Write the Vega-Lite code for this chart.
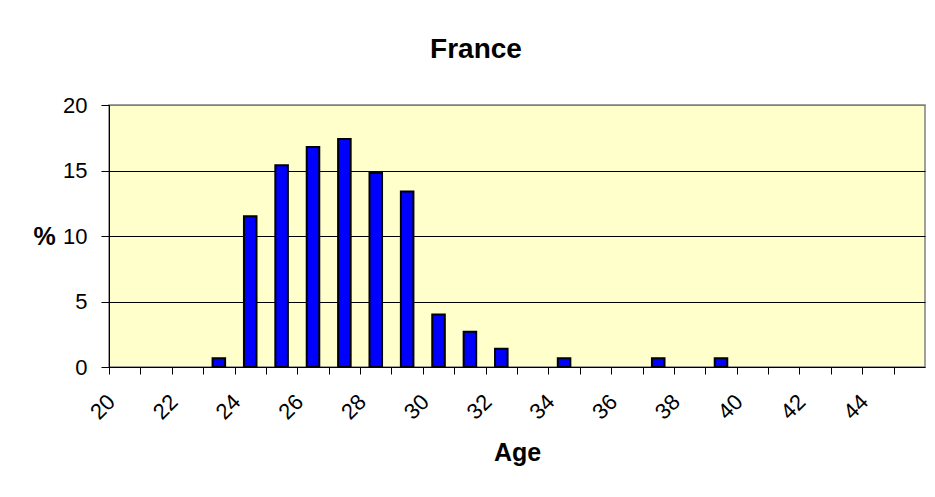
{
  "$schema": "https://vega.github.io/schema/vega-lite/v6.json",
  "width": 816,
  "height": 262,
  "autosize": {"type": "none"},
  "padding": {"left": 109, "top": 105, "right": 10, "bottom": 130},
  "background": "white",
  "title": {
    "text": "France",
    "font": "Liberation Sans",
    "fontSize": 28,
    "fontWeight": "bold",
    "color": "black",
    "anchor": "middle",
    "dx": -41,
    "baseline": "alphabetic",
    "offset": 8
  },
  "data": {
    "values": [
      {"age": 20, "pct": 0},
      {"age": 21, "pct": 0},
      {"age": 22, "pct": 0},
      {"age": 23, "pct": 0.67},
      {"age": 24, "pct": 11.5},
      {"age": 25, "pct": 15.4},
      {"age": 26, "pct": 16.8},
      {"age": 27, "pct": 17.4},
      {"age": 28, "pct": 14.8},
      {"age": 29, "pct": 13.4},
      {"age": 30, "pct": 4.0},
      {"age": 31, "pct": 2.7},
      {"age": 32, "pct": 1.4},
      {"age": 33, "pct": 0},
      {"age": 34, "pct": 0.67},
      {"age": 35, "pct": 0},
      {"age": 36, "pct": 0},
      {"age": 37, "pct": 0.67},
      {"age": 38, "pct": 0},
      {"age": 39, "pct": 0.67},
      {"age": 40, "pct": 0},
      {"age": 41, "pct": 0},
      {"age": 42, "pct": 0},
      {"age": 43, "pct": 0},
      {"age": 44, "pct": 0},
      {"age": 45, "pct": 0}
    ]
  },
  "transform": [{"filter": "datum.pct > 0"}],
  "mark": {"type": "bar", "color": "#0000FF", "stroke": "#000000", "strokeWidth": 2},
  "encoding": {
    "x": {
      "field": "age",
      "type": "ordinal",
      "scale": {
        "domain": [20, 21, 22, 23, 24, 25, 26, 27, 28, 29, 30, 31, 32, 33, 34, 35, 36, 37, 38, 39, 40, 41, 42, 43, 44, 45],
        "paddingInner": 0.6,
        "paddingOuter": 0.3
      },
      "axis": {
        "title": "Age",
        "titleFont": "Liberation Sans",
        "titleFontSize": 25,
        "titleFontWeight": "bold",
        "titleColor": "black",
        "titleY": 93,
        "titleBaseline": "alphabetic",
        "labelAngle": -45,
        "labelAlign": "right",
        "labelBaseline": "middle",
        "labelFont": "Liberation Sans",
        "labelFontSize": 22,
        "labelColor": "black",
        "labelPadding": 24,
        "labelOffset": 2,
        "labelOverlap": false,
        "labelExpr": "datum.value % 2 === 0 ? datum.label : ''",
        "bandPosition": 0.5,
        "tickOffset": -15.69,
        "tickSize": 7,
        "tickColor": "black",
        "domainColor": "black",
        "grid": false
      }
    },
    "y": {
      "field": "pct",
      "type": "quantitative",
      "scale": {"domain": [0, 20], "nice": false},
      "axis": {
        "title": "%",
        "titleAngle": 0,
        "titleX": -65,
        "titleY": 131,
        "titleAlign": "center",
        "titleBaseline": "middle",
        "titleFont": "Liberation Sans",
        "titleFontSize": 25,
        "titleFontWeight": "bold",
        "titleColor": "black",
        "values": [0, 5, 10, 15, 20],
        "tickSize": 8,
        "tickColor": "black",
        "domainColor": "black",
        "labelPadding": 14,
        "labelFont": "Liberation Sans",
        "labelFontSize": 22,
        "labelColor": "black",
        "grid": true,
        "gridColor": {"condition": {"test": "datum.value == 20 || datum.value == 0", "value": "#808080"}, "value": "#000000"},
        "gridWidth": 1
      }
    }
  },
  "config": {
    "view": {"fill": "#FFFFCC", "stroke": "#808080", "strokeWidth": 1.5}
  }
}
